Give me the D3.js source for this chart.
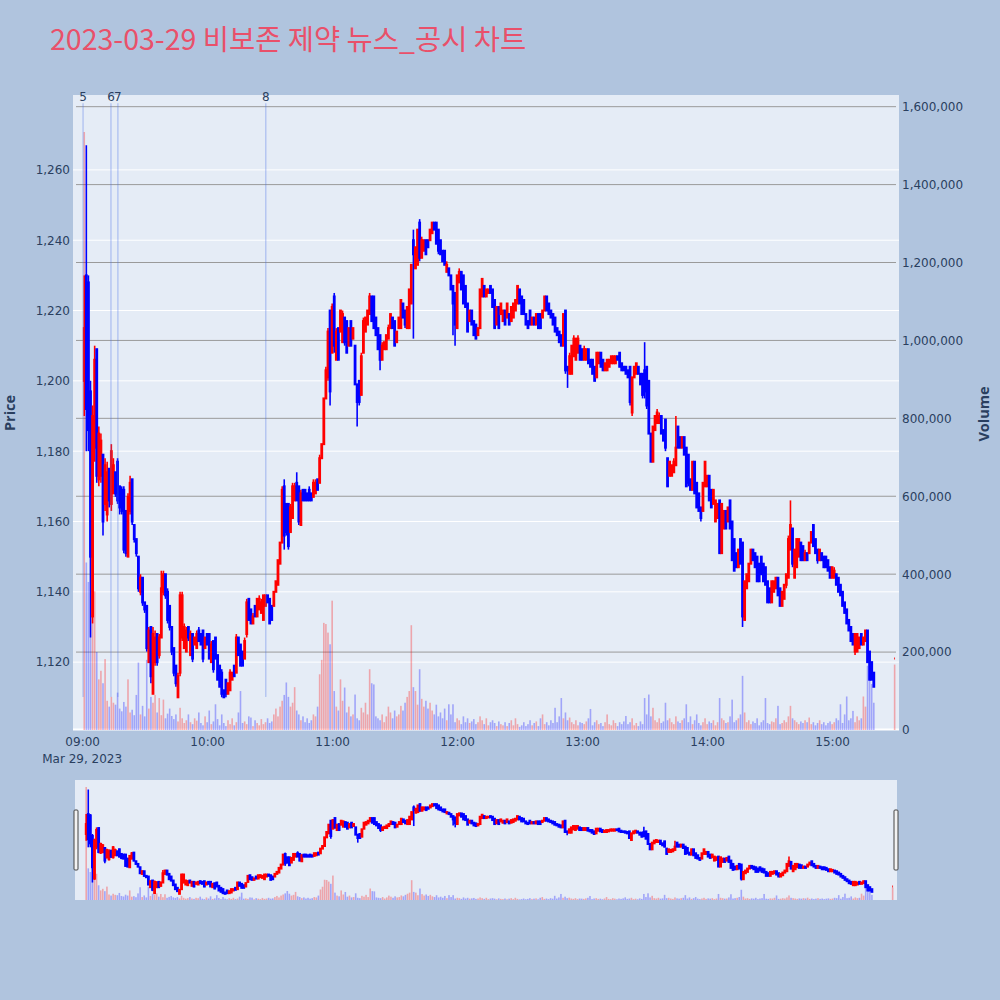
<!DOCTYPE html>
<html>
<head>
<meta charset="utf-8">
<script src="https://cdn.jsdelivr.net/npm/d3@7/dist/d3.min.js"></script>
<style>
html,body{margin:0;padding:0;background:#b0c4de;}
svg{display:block;}
text{font-family:"DejaVu Sans",Verdana,sans-serif;}
</style>
</head>
<body>
<svg id="chart" width="1000" height="1000"></svg>
<script>
// ---------------- DATA ----------------
const chartTitle = "2023-03-29 비보존 제약 뉴스_공시 차트";
const sessionDate = "2023-03-29";
const dateLabel = "Mar 29, 2023";
// bar times: minutes after 09:00 (1-minute bars 09:01..15:20, then 15:30 closing auction)
const barMinutes = d3.range(1, 381).concat([390]);

const openP = [
1200,1230,1228,1197,1133,1181,1209,1172,1173,1179,
1165,1162,1175,1165,1168,1174,1177,1170,1169,1169,
1163,1150,1163,1172,1159,1155,1150,1140,1144,1137,
1136,1120,1130,1111,1120,1128,1122,1127,1140,1145,
1140,1136,1130,1124,1119,1110,1117,1127,1124,1123,
1130,1122,1128,1125,1124,1129,1128,1129,1124,1128,
1128,1120,1126,1127,1122,1119,1117,1112,1115,1111,
1112,1115,1119,1117,1127,1125,1123,1121,1128,1138,
1135,1131,1136,1133,1135,1134,1132,1136,1139,1138,
1136,1136,1140,1142,1148,1154,1170,1165,1165,1157,
1161,1166,1171,1170,1159,1169,1169,1168,1169,1168,
1167,1168,1172,1171,1178,1182,1195,1201,1220,1208,
1224,1206,1215,1214,1211,1218,1217,1210,1217,1212,
1210,1199,1200,1196,1208,1214,1216,1219,1224,1224,
1218,1215,1213,1206,1209,1209,1212,1215,1218,1217,
1211,1215,1215,1222,1220,1215,1215,1222,1240,1232,
1233,1245,1235,1237,1240,1240,1240,1242,1245,1245,
1243,1240,1237,1237,1231,1232,1230,1227,1225,1215,
1228,1231,1230,1227,1222,1217,1220,1217,1216,1213,
1215,1224,1227,1224,1225,1227,1226,1223,1216,1221,
1219,1217,1220,1218,1219,1217,1218,1220,1222,1226,
1224,1223,1219,1217,1220,1216,1218,1216,1219,1219,
1218,1220,1224,1222,1220,1219,1218,1215,1214,1213,
1210,1220,1204,1202,1202,1207,1206,1208,1210,1209,
1206,1206,1209,1206,1206,1204,1201,1205,1208,1206,
1203,1203,1204,1205,1205,1205,1207,1208,1205,1204,
1204,1203,1204,1191,1201,1202,1204,1202,1202,1203,
1204,1200,1185,1177,1186,1188,1188,1190,1186,1189,
1178,1173,1173,1174,1176,1187,1184,1181,1184,1181,
1179,1172,1169,1177,1171,1168,1164,1163,1170,1170,
1173,1169,1165,1160,1161,1166,1151,1158,1163,1160,
1166,1160,1155,1151,1147,1155,1154,1132,1141,1143,
1148,1152,1151,1150,1148,1150,1148,1147,1143,1141,
1137,1140,1141,1144,1141,1136,1138,1142,1144,1152,
1158,1144,1147,1150,1154,1153,1149,1151,1151,1154,
1159,1155,1152,1149,1151,1150,1150,1149,1147,1144,
1144,1145,1144,1142,1140,1137,1135,1132,1130,1128,
1123,1123,1124,1128,1125,1126,1129,1123,1120,1117,
1121];

const highP = [
1230,1267,1230,1200,1193,1210,1209,1187,1185,1179,
1178,1177,1175,1182,1178,1174,1178,1170,1170,1170,
1163,1168,1173,1172,1159,1155,1150,1145,1144,1137,
1136,1130,1130,1130,1129,1128,1128,1146,1146,1145,
1141,1136,1130,1124,1119,1117,1140,1140,1131,1130,
1130,1129,1128,1127,1129,1130,1128,1129,1127,1128,
1128,1126,1126,1127,1122,1119,1118,1112,1115,1114,
1118,1117,1119,1128,1127,1125,1123,1127,1138,1138,
1135,1134,1136,1138,1139,1138,1139,1139,1139,1138,
1136,1140,1143,1149,1154,1170,1172,1165,1165,1165,
1171,1171,1174,1170,1169,1169,1169,1168,1170,1168,
1172,1172,1172,1179,1182,1195,1204,1215,1220,1222,
1225,1215,1215,1220,1220,1218,1217,1215,1217,1215,
1210,1199,1200,1208,1218,1218,1220,1225,1224,1224,
1218,1215,1213,1211,1211,1213,1216,1219,1218,1217,
1214,1218,1223,1222,1220,1221,1226,1233,1243,1238,
1243,1246,1241,1240,1240,1240,1243,1245,1245,1245,
1243,1240,1237,1237,1234,1232,1230,1227,1225,1230,
1232,1231,1230,1227,1222,1220,1220,1217,1216,1215,
1226,1229,1227,1226,1226,1227,1226,1223,1221,1221,
1222,1220,1220,1222,1219,1221,1222,1223,1227,1226,
1224,1223,1219,1217,1220,1218,1218,1219,1219,1219,
1220,1224,1224,1222,1220,1219,1218,1215,1214,1213,
1219,1220,1204,1208,1210,1213,1212,1213,1210,1209,
1210,1209,1209,1206,1206,1204,1208,1208,1208,1206,
1205,1206,1206,1207,1207,1207,1207,1208,1205,1204,
1204,1203,1204,1201,1204,1205,1204,1202,1202,1211,
1204,1200,1185,1187,1190,1192,1191,1190,1186,1189,
1178,1177,1176,1178,1190,1187,1184,1184,1184,1181,
1179,1172,1177,1177,1171,1168,1164,1171,1177,1173,
1173,1169,1169,1166,1165,1166,1165,1163,1163,1164,
1166,1160,1155,1151,1152,1155,1154,1143,1145,1148,
1152,1152,1151,1150,1148,1150,1148,1147,1143,1141,
1143,1143,1144,1144,1141,1140,1142,1145,1156,1166,
1158,1152,1155,1155,1154,1153,1152,1151,1154,1157,
1159,1155,1152,1152,1151,1150,1150,1149,1147,1147,
1147,1145,1144,1142,1140,1137,1135,1132,1130,1128,
1128,1128,1127,1128,1127,1129,1129,1123,1120,1117,
1121];

const lowP = [
1190,1180,1180,1127,1131,1177,1171,1170,1171,1156,
1163,1160,1164,1163,1168,1167,1165,1162,1162,1151,
1150,1150,1162,1159,1154,1150,1140,1139,1136,1134,
1123,1120,1114,1111,1119,1119,1121,1127,1139,1138,
1131,1129,1122,1116,1113,1110,1116,1126,1124,1123,
1126,1122,1120,1125,1124,1126,1125,1120,1124,1125,
1121,1120,1117,1121,1115,1113,1110,1110,1110,1111,
1112,1115,1116,1117,1122,1119,1119,1121,1127,1132,
1131,1131,1133,1133,1135,1134,1132,1136,1137,1131,
1132,1136,1140,1142,1148,1154,1152,1156,1152,1157,
1161,1166,1166,1159,1159,1166,1166,1166,1166,1166,
1167,1168,1169,1171,1178,1182,1195,1200,1193,1208,
1208,1206,1206,1214,1211,1210,1208,1210,1210,1212,
1199,1187,1193,1196,1208,1214,1216,1219,1217,1215,
1213,1209,1203,1206,1209,1209,1212,1215,1215,1210,
1211,1215,1215,1218,1215,1215,1215,1222,1212,1232,
1233,1234,1235,1237,1236,1238,1240,1242,1243,1239,
1236,1236,1234,1233,1231,1230,1226,1213,1210,1215,
1228,1226,1222,1221,1214,1217,1216,1213,1212,1213,
1215,1224,1224,1224,1225,1225,1221,1215,1216,1215,
1219,1217,1216,1218,1216,1217,1218,1220,1222,1222,
1219,1219,1216,1215,1216,1216,1216,1216,1215,1215,
1218,1220,1220,1219,1218,1216,1214,1213,1211,1210,
1210,1202,1198,1202,1202,1207,1206,1208,1206,1206,
1206,1206,1205,1204,1202,1200,1201,1205,1204,1203,
1203,1203,1204,1205,1205,1205,1206,1204,1203,1203,
1202,1201,1193,1190,1201,1202,1202,1199,1195,1195,
1192,1185,1177,1177,1186,1188,1188,1185,1183,1180,
1170,1173,1173,1174,1176,1181,1181,1181,1179,1170,
1170,1169,1169,1168,1164,1163,1160,1163,1170,1170,
1166,1164,1165,1160,1161,1151,1151,1158,1158,1160,
1158,1149,1146,1147,1147,1148,1130,1132,1141,1143,
1148,1149,1147,1143,1143,1145,1143,1142,1137,1137,
1137,1140,1141,1139,1136,1136,1138,1141,1144,1152,
1147,1144,1147,1150,1149,1149,1149,1149,1151,1154,
1153,1151,1148,1149,1149,1147,1147,1146,1144,1144,
1144,1142,1140,1139,1136,1134,1131,1129,1126,1125,
1122,1123,1124,1125,1125,1126,1120,1115,1115,1113,
1121];

const closeP = [
1215,1192,1186,1150,1190,1206,1173,1185,1183,1160,
1176,1174,1166,1180,1176,1168,1166,1164,1163,1152,
1151,1167,1171,1160,1155,1151,1141,1144,1137,1135,
1124,1129,1116,1128,1127,1120,1127,1141,1145,1139,
1132,1130,1123,1117,1114,1116,1139,1139,1130,1129,
1127,1128,1121,1127,1128,1126,1125,1121,1127,1125,
1121,1125,1118,1121,1115,1113,1111,1110,1111,1114,
1117,1117,1116,1127,1122,1119,1119,1126,1137,1132,
1131,1133,1133,1138,1138,1137,1139,1139,1137,1131,
1132,1140,1143,1149,1154,1169,1156,1157,1153,1164,
1170,1170,1166,1160,1168,1166,1166,1166,1166,1166,
1171,1171,1169,1178,1182,1195,1203,1214,1197,1221,
1210,1214,1206,1220,1219,1211,1208,1215,1210,1215,
1199,1194,1194,1207,1217,1218,1220,1224,1217,1215,
1213,1209,1206,1210,1211,1213,1215,1219,1215,1210,
1214,1218,1223,1218,1216,1221,1226,1233,1236,1238,
1243,1235,1240,1240,1236,1238,1243,1245,1243,1239,
1237,1236,1234,1233,1233,1230,1226,1222,1216,1230,
1231,1226,1222,1221,1214,1220,1216,1213,1212,1215,
1226,1229,1224,1226,1226,1225,1221,1215,1221,1215,
1222,1220,1216,1222,1216,1221,1222,1223,1227,1222,
1219,1219,1216,1215,1216,1218,1216,1219,1215,1215,
1220,1224,1220,1219,1218,1216,1214,1213,1211,1210,
1219,1203,1203,1207,1210,1212,1212,1212,1206,1206,
1209,1209,1205,1204,1202,1200,1208,1208,1204,1203,
1205,1206,1206,1207,1207,1207,1206,1204,1203,1203,
1202,1201,1194,1201,1204,1205,1202,1199,1196,1197,
1193,1185,1177,1187,1190,1191,1190,1185,1183,1181,
1170,1177,1176,1177,1181,1181,1181,1184,1179,1170,
1171,1169,1177,1168,1164,1163,1161,1171,1177,1173,
1166,1164,1169,1166,1165,1151,1165,1163,1158,1164,
1158,1149,1146,1147,1152,1148,1133,1143,1145,1148,
1152,1149,1147,1143,1143,1145,1143,1142,1137,1137,
1143,1143,1144,1139,1136,1140,1142,1145,1155,1159,
1148,1152,1155,1155,1149,1149,1151,1149,1154,1157,
1153,1151,1149,1152,1149,1147,1147,1146,1144,1147,
1146,1142,1140,1139,1136,1134,1131,1129,1126,1125,
1128,1128,1127,1125,1127,1129,1120,1115,1115,1113,
1121];

// volume in thousands of shares
const volumeK = [
1535,430,380,516,366,356,200,130,152,120,
182,75,60,85,70,65,96,55,48,72,
60,130,45,52,38,90,173,40,62,35,
180,55,85,70,90,45,82,38,78,30,
42,55,36,28,40,22,57,30,18,25,
40,20,15,30,24,45,18,12,35,20,
50,15,22,66,28,12,40,18,10,25,
15,30,12,20,45,100,18,22,15,35,
32,10,25,18,12,28,15,20,30,18,
22,40,55,35,60,75,90,122,85,60,
70,110,50,40,25,35,20,30,18,25,
40,35,60,143,180,275,272,250,220,332,
100,60,50,130,75,109,45,60,35,40,
91,30,25,57,45,70,40,156,120,117,
35,30,25,40,20,35,60,45,30,50,
35,40,62,50,70,85,100,269,110,100,
65,156,80,60,75,55,70,50,40,65,
35,45,30,55,25,66,40,66,20,30,
25,15,35,20,30,18,22,28,15,20,
35,25,15,30,12,20,25,18,10,22,
15,12,20,10,18,25,12,30,15,8,
12,20,10,15,25,12,18,22,10,30,
40,15,20,12,25,18,57,20,35,82,
30,45,25,32,20,15,25,12,20,18,
15,22,30,54,12,20,25,15,18,10,
20,40,15,12,25,18,10,20,15,22,
36,15,20,30,12,18,10,22,15,82,
40,91,35,57,25,20,30,18,22,70,
25,30,20,15,35,22,18,25,30,66,
20,35,15,25,40,18,12,20,30,15,
22,18,25,12,20,82,30,25,18,20,
35,78,20,25,30,40,139,45,20,25,
15,22,18,30,12,20,25,82,18,15,
22,20,30,62,15,18,25,20,35,62,
30,25,20,15,22,18,25,20,32,15,
20,12,18,25,15,20,12,18,22,15,
20,30,25,66,18,40,86,25,30,49,
20,35,25,30,86,60,165,143,118,70,
168];

const priceTicks = [1120,1140,1160,1180,1200,1220,1240,1260];
const volumeTicks = [0,200000,400000,600000,800000,1000000,1200000,1400000,1600000];
const newsLabels = ["5","6","7","8"];
const newsTimes = ["09:00:25","09:13:50","09:17:10","10:28:10"];

// ---------------- CHART ----------------
const svg = d3.select("#chart");
svg.append("rect").attr("width",1000).attr("height",1000).attr("fill","#b0c4de");

const P = {l:73, r:899, t:95, b:730};
const S = {l:75, r:897, t:780, b:900};
const parseT = d3.timeParse("%Y-%m-%d %H:%M:%S");
const t0 = parseT(sessionDate + " 09:00:00");
const tAt = m => new Date(t0.getTime() + m*60000);
const times = barMinutes.map(tAt);
const xDomain = [tAt(-4.4), tAt(392.1)];
const priceDomain = [1100.7, 1281.3];
const volDomain = [0, 1630000];

const x  = d3.scaleTime().domain(xDomain).range([P.l, P.r]);
const yP = d3.scaleLinear().domain(priceDomain).range([P.b, P.t]);
const yV = d3.scaleLinear().domain(volDomain).range([P.b, P.t]);
const xs  = d3.scaleTime().domain(xDomain).range([S.l, S.r]);
const yPs = d3.scaleLinear().domain(priceDomain).range([S.b, S.t]);
const yVs = d3.scaleLinear().domain(volDomain).range([S.b, S.t]);

// plotly-like increasing/decreasing
const inc = [];
let prevC = null, prevInc = true;
for (let i = 0; i < closeP.length; i++) {
  const o = openP[i], c = closeP[i];
  let v;
  if (o === c) v = (prevC !== null && c !== prevC) ? c > prevC : prevInc;
  else v = c > o;
  inc.push(v); prevInc = v; prevC = c;
}
const RED = "#ff0000", BLUE = "#0000ff";

// title
svg.append("text").attr("x",50).attr("y",50)
  .attr("fill","#e9506a").style("font-family","'Noto Sans CJK KR','Open Sans',sans-serif")
  .style("font-size","28.5px").text(chartTitle);

// plot background
svg.append("rect").attr("x",P.l).attr("y",P.t).attr("width",P.r-P.l).attr("height",P.b-P.t).attr("fill","#e5ecf6");

// grid
const grid = svg.append("g");
grid.selectAll("line.pg").data(priceTicks).join("line")
  .attr("x1",P.l).attr("x2",P.r).attr("y1",d=>yP(d)).attr("y2",d=>yP(d))
  .attr("stroke","#ffffff").attr("stroke-width",1);
grid.selectAll("line.vg").data(volumeTicks.filter(d=>d>0)).join("line")
  .attr("x1",P.l+3).attr("x2",P.r-3).attr("y1",d=>yV(d)).attr("y2",d=>yV(d))
  .attr("stroke","#9a9a9a").attr("stroke-width",1);
grid.append("line").attr("x1",P.l).attr("x2",P.r).attr("y1",yV(0)-0.5).attr("y2",yV(0)-0.5)
  .attr("stroke","#ffffff").attr("stroke-width",2);

// clip
const defs = svg.append("defs");
defs.append("clipPath").attr("id","clipMain").append("rect")
  .attr("x",P.l).attr("y",P.t).attr("width",P.r-P.l).attr("height",P.b-P.t);
defs.append("clipPath").attr("id","clipSlider").append("rect")
  .attr("x",S.l).attr("y",S.t).attr("width",S.r-S.l).attr("height",S.b-S.t);

function drawSeries(g, X, YP, YV, barW, bodyHalf, lw, wickW) {
  const idx = d3.range(times.length);
  g.append("g").selectAll("rect").data(idx).join("rect")
    .attr("x", i => X(times[i]) - barW/2).attr("width", barW)
    .attr("y", i => YV(volumeK[i]*1000))
    .attr("height", i => YV(0) - YV(volumeK[i]*1000))
    .attr("fill", i => inc[i] ? "rgba(255,0,0,0.3)" : "rgba(0,0,255,0.3)");
  const cg = g.append("g");
  idx.forEach(i => {
    const cx = X(times[i]);
    const col = inc[i] ? RED : BLUE;
    const top = YP(Math.max(openP[i], closeP[i]));
    const bot = YP(Math.min(openP[i], closeP[i]));
    cg.append("line").attr("x1",cx).attr("x2",cx)
      .attr("y1",YP(highP[i])).attr("y2",YP(lowP[i]))
      .attr("stroke",col).attr("stroke-width",wickW);
    cg.append("path")
      .attr("d",`M${cx-bodyHalf},${top}H${cx+bodyHalf}V${bot}H${cx-bodyHalf}Z`)
      .attr("fill",col).attr("fill-opacity",0.5)
      .attr("stroke",col).attr("stroke-width",lw).attr("stroke-linejoin","miter");
  });
}

const gMain = svg.append("g").attr("clip-path","url(#clipMain)");
drawSeries(gMain, x, yP, yV, 1.6, 0.4, 2, 1.6);

// news lines
const newsX = newsTimes.map(t => x(parseT(sessionDate + " " + t)));
const ph = P.b - P.t;
svg.append("g").selectAll("line").data(newsX).join("line")
  .attr("x1",d=>d).attr("x2",d=>d)
  .attr("y1",P.b - 0.987*ph).attr("y2",P.b - 0.052*ph)
  .attr("stroke","rgba(70,110,230,0.45)").attr("stroke-width",1);
svg.append("g").selectAll("text").data(newsLabels).join("text")
  .attr("x",(d,i)=>newsX[i]).attr("y",101).attr("text-anchor","middle")
  .attr("fill","#2a3f5f").style("font-size","12px").text(d=>d);

// axes
function styleAxis(g){
  g.select(".domain").remove();
  g.selectAll("text").attr("fill","#2a3f5f").style("font-size","12px")
    .style("font-family","'DejaVu Sans',Verdana,sans-serif");
}
svg.append("g").attr("transform",`translate(${P.l},0)`)
  .call(d3.axisLeft(yP).tickValues(priceTicks).tickFormat(d3.format(",")).tickSize(0).tickPadding(3))
  .call(styleAxis);
svg.append("g").attr("transform",`translate(${P.r},0)`)
  .call(d3.axisRight(yV).tickValues(volumeTicks).tickFormat(d3.format(",")).tickSize(0).tickPadding(3))
  .call(styleAxis);
svg.append("g").attr("transform",`translate(0,${P.b})`)
  .call(d3.axisBottom(x).ticks(d3.timeHour.every(1)).tickFormat(d3.timeFormat("%H:%M")).tickSize(0).tickPadding(7))
  .call(styleAxis);
svg.append("text").attr("x",x(t0)).attr("y",763).attr("text-anchor","middle")
  .attr("fill","#2a3f5f").style("font-size","12px").text(dateLabel);

// axis titles
svg.append("text").attr("transform","translate(15,413) rotate(-90)").attr("text-anchor","middle")
  .attr("fill","#2a3f5f").style("font-family","'Open Sans',sans-serif").style("font-weight","bold")
  .style("font-size","14.5px").text("Price");
svg.append("text").attr("transform","translate(989,414) rotate(-90)").attr("text-anchor","middle")
  .attr("fill","#2a3f5f").style("font-family","'Open Sans',sans-serif").style("font-weight","bold")
  .style("font-size","14.5px").text("Volume");

// range slider
svg.append("rect").attr("x",S.l).attr("y",S.t).attr("width",S.r-S.l).attr("height",S.b-S.t).attr("fill","#e5ecf6");
const gS = svg.append("g").attr("clip-path","url(#clipSlider)");
drawSeries(gS, xs, yPs, yVs, 1.6, 0.4, 2, 1.6);
const hh = (S.b - S.t)/2;
[S.l - 1, S.r - 3].forEach(hx => {
  svg.append("rect").attr("x",hx).attr("y",S.t + hh/2).attr("width",4).attr("height",hh)
    .attr("rx",1).attr("fill","#f2f2f2").attr("stroke","#444").attr("stroke-width",1);
});
</script>
</body>
</html>
